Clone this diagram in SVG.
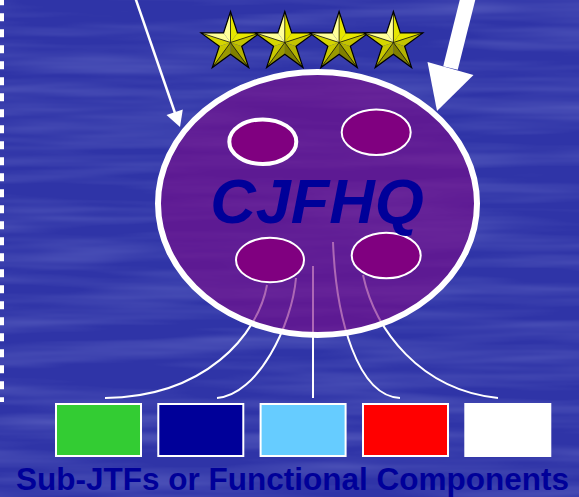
<svg xmlns="http://www.w3.org/2000/svg" xmlns:xlink="http://www.w3.org/1999/xlink" width="579" height="497" viewBox="0 0 579 497">
<style>
.conn{fill:none;stroke:#ffffff;stroke-width:2}
.sub{fill:#800080;stroke:#ffffff;stroke-width:2}
.box{stroke:#ffffff;stroke-width:2}
.lbl{font-family:"Liberation Sans",Arial,sans-serif;font-weight:bold;fill:#000099}
.edge{stroke:#1a1a00;stroke-width:0.8;fill:none}
</style>
<defs>
<filter id="tex" x="0" y="0" width="100%" height="100%" filterUnits="userSpaceOnUse">
<feTurbulence type="fractalNoise" baseFrequency="0.004 0.06" numOctaves="3" seed="4"/>
<feColorMatrix type="matrix" values="0 0 0 0 0.6  0 0 0 0 0.65  0 0 0 0 1  0 0 0 0.4 -0.15"/>
</filter>
<g id="star">
<polygon points="0,0 0,-31 -6.94,-9.55" fill="#ffff99"/>
<polygon points="0,0 0,-31 6.94,-9.55" fill="#e6e600"/>
<polygon points="0,0 29.48,-9.58 6.94,-9.55" fill="#e8e800"/>
<polygon points="0,0 29.48,-9.58 11.22,3.65" fill="#c4c400"/>
<polygon points="0,0 18.22,25.08 11.22,3.65" fill="#b3b300"/>
<polygon points="0,0 18.22,25.08 0,11.8" fill="#808000"/>
<polygon points="0,0 -18.22,25.08 0,11.8" fill="#999900"/>
<polygon points="0,0 -18.22,25.08 -11.22,3.65" fill="#c8c800"/>
<polygon points="0,0 -29.48,-9.58 -11.22,3.65" fill="#d6d600"/>
<polygon points="0,0 -29.48,-9.58 -6.94,-9.55" fill="#ffff99"/>
<path class="edge" d="M0,0L0,-31M0,0L29.48,-9.58M0,0L18.22,25.08M0,0L-18.22,25.08M0,0L-29.48,-9.58"/>
<polygon points="0,-31 6.94,-9.55 29.48,-9.58 11.22,3.65 18.22,25.08 0,11.8 -18.22,25.08 -11.22,3.65 -29.48,-9.58 -6.94,-9.55" fill="none" stroke="#000000" stroke-width="1.2" stroke-linejoin="miter"/>
</g>
</defs>

<g id="background">
<rect x="0" y="0" width="579" height="497" fill="#2f34a7"/>
<rect x="0" y="0" width="579" height="497" filter="url(#tex)"/>
</g>

<g id="left-dots">
<line x1="2" y1="-2.7" x2="2" y2="402" stroke="#ffffff" stroke-width="4" stroke-dasharray="8 8"/>
</g>

<g id="connectors">
<path class="conn" d="M267,285 C258,335 205,397 105,398"/>
<path class="conn" d="M296,278 C292,325 258,395 217,398"/>
<path class="conn" d="M313,266 L313,398"/>
<path class="conn" d="M333,242 C336,320 358,396 400,398"/>
<path class="conn" d="M363,275 C375,330 420,390 498,398"/>
</g>

<g id="cjfhq">
<ellipse cx="317.5" cy="203.5" rx="159.5" ry="131.5" fill="#7a0c88" fill-opacity="0.62"/>
<ellipse cx="317.5" cy="203.5" rx="159.5" ry="131.5" fill="none" stroke="#ffffff" stroke-width="6"/>
<ellipse id="sub-tl" cx="262.8" cy="141.7" rx="33.5" ry="22.3" fill="#800080" stroke="#ffffff" stroke-width="4"/>
<ellipse id="sub-tr" class="sub" cx="376.2" cy="132.2" rx="34.5" ry="22.8"/>
<ellipse id="sub-bl" class="sub" cx="270" cy="260" rx="34" ry="22.3"/>
<ellipse id="sub-br" class="sub" cx="386.2" cy="255.5" rx="34.5" ry="22.8"/>
<text class="lbl" x="317" y="223" font-size="63" font-style="italic" text-anchor="middle">CJFHQ</text>
</g>

<g id="arrows">
<line x1="135" y1="-3" x2="175" y2="113" stroke="#ffffff" stroke-width="2.5"/>
<polygon points="166.5,115 182.8,109.5 180,127" fill="#ffffff"/>
<line x1="469" y1="-6" x2="450.5" y2="68" stroke="#ffffff" stroke-width="15"/>
<polygon points="427.5,62 473.5,75 437,111" fill="#ffffff"/>
</g>

<g id="stars">
<use xlink:href="#star" href="#star" transform="translate(230.5,42.5)"/>
<use xlink:href="#star" href="#star" transform="translate(284.8,42.5)"/>
<use xlink:href="#star" href="#star" transform="translate(339.1,42.5)"/>
<use xlink:href="#star" href="#star" transform="translate(393.4,42.5)"/>
</g>

<g id="box-green"><rect class="box" x="56" y="404" width="85" height="52" fill="#33cc33"/></g>
<g id="box-navy"><rect class="box" x="158.3" y="404" width="85" height="52" fill="#000099"/></g>
<g id="box-lightblue"><rect class="box" x="260.6" y="404" width="85" height="52" fill="#66ccff"/></g>
<g id="box-red"><rect class="box" x="363" y="404" width="85" height="52" fill="#ff0000"/></g>
<g id="box-white"><rect class="box" x="465.3" y="404" width="85" height="52" fill="#ffffff"/></g>

<g id="caption">
<text class="lbl" x="16" y="490" font-size="31.5">Sub-JTFs or Functional Components</text>
</g>
</svg>
